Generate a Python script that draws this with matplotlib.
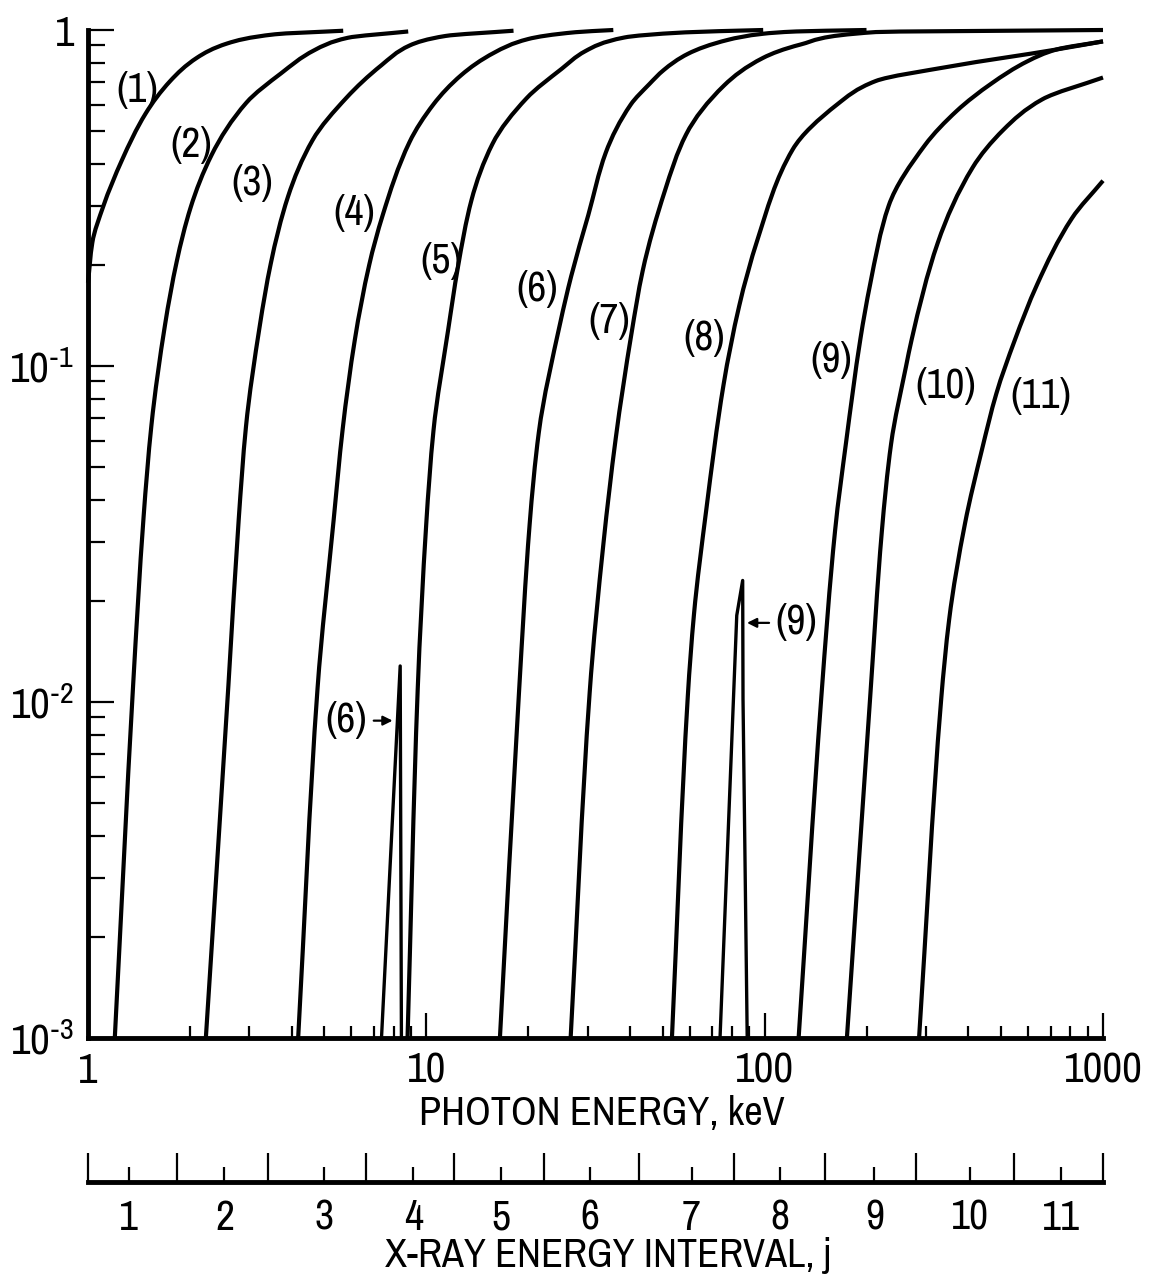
import numpy as np
import matplotlib.pyplot as plt
from matplotlib import font_manager as fm
from matplotlib.path import Path
from matplotlib.patches import PathPatch
from matplotlib.ticker import NullFormatter, LogLocator

# the original lettering is a condensed sans, so look for a narrow face
narrow = [f for f in fm.fontManager.ttflist
          if f.style == 'normal' and f.weight in (400, 'normal', 'regular', 'book')
          and (f.stretch in ('condensed', 'semi-condensed', 'extra-condensed')
               or 'Narrow' in f.name or 'Condensed' in f.name)]
narrow.sort(key=lambda f: 0 if 'Narrow' in f.name else 1)
if narrow:
    plt.rcParams['font.family'] = [narrow[0].name, 'DejaVu Sans']
    plt.rcParams['font.stretch'] = narrow[0].stretch
else:
    plt.rcParams['font.family'] = ['Roboto', 'DejaVu Sans']
plt.rcParams['mathtext.default'] = 'regular'
FS = 31

# transmission curves for each x-ray energy interval j (photon energy in keV)
c1_E = [1.0, 1.03, 1.11, 1.26, 1.48, 1.75, 2.10, 2.58, 3.57, 5.68]
c1_T = [0.177, 0.233, 0.299, 0.410, 0.564, 0.705, 0.827, 0.912, 0.971, 0.995]

c2_E = [1.20, 1.36, 1.46, 1.54, 1.69, 1.83, 2.01, 2.32, 2.94, 3.72, 4.67, 5.86, 8.84]
c2_T = [0.001, 0.0113, 0.0356, 0.0667, 0.133, 0.205, 0.296, 0.425, 0.608, 0.743, 0.871, 0.948, 0.99]

c3_E = [2.23, 2.60, 2.79, 2.93, 3.22, 3.47, 3.90, 4.61, 5.81, 7.36, 8.94, 11.4, 18.1]
c3_T = [0.001, 0.0112, 0.0351, 0.0659, 0.132, 0.202, 0.319, 0.470, 0.629, 0.785, 0.90, 0.96, 0.995]

c4_E = [4.18, 4.77, 5.32, 5.66, 6.15, 6.78, 7.43, 8.92, 10.5, 12.7, 15.9, 20.0, 27.6, 35.7]
c4_T = [0.001, 0.011, 0.0347, 0.065, 0.120, 0.200, 0.281, 0.464, 0.601, 0.735, 0.857, 0.94, 0.985, 1.0]

c5_E = [8.80, 9.43, 10.0, 10.5, 11.6, 12.4, 13.6, 15.7, 19.8, 25.1, 29.5, 38.5, 58.3, 99.0]
c5_T = [0.001, 0.0109, 0.0342, 0.0643, 0.128, 0.197, 0.312, 0.459, 0.627, 0.766, 0.865, 0.95, 0.984, 1.0]

c6_E = [16.5, 18.8, 20.2, 21.5, 24.9, 26.8, 30.1, 33.9, 40.2, 45.6, 50.3, 59.4, 78.0, 99.3, 124, 200]
c6_T = [0.001, 0.0108, 0.0338, 0.0634, 0.135, 0.185, 0.281, 0.431, 0.60, 0.69, 0.76, 0.85, 0.935, 0.975, 0.99, 1.0]

c7_E = [26.7, 30.4, 33.4, 36.3, 40.4, 43.6, 50.7, 58.6, 76.0, 98.9, 127.5, 213, 1000]
c7_T = [0.001, 0.0107, 0.0298, 0.061, 0.125, 0.192, 0.332, 0.489, 0.685, 0.826, 0.905, 0.986, 1.0]

c8_E = [53.2, 59.3, 61.8, 67.2, 75.6, 84.1, 95.4, 121, 164, 213, 356, 729, 1000]
c8_T = [0.001, 0.0105, 0.0182, 0.0373, 0.088, 0.151, 0.239, 0.441, 0.601, 0.705, 0.78, 0.875, 0.925]

c9_E = [126, 147, 161.5, 174, 192, 205, 232.6, 298, 370, 469, 601, 729, 1000]
c9_T = [0.001, 0.0103, 0.0324, 0.0592, 0.121, 0.175, 0.30, 0.455, 0.575, 0.694, 0.809, 0.875, 0.925]

c10_E = [175, 205, 222, 236.5, 261.6, 272, 325, 412, 508, 662, 1000]
c10_T = [0.001, 0.0103, 0.0322, 0.0588, 0.0995, 0.120, 0.233, 0.39, 0.505, 0.622, 0.722]

c11_E = [286, 332.5, 351, 391, 439, 484, 548, 639, 809, 1000]
c11_T = [0.001, 0.0102, 0.0176, 0.034, 0.0565, 0.0828, 0.119, 0.175, 0.275, 0.356]

# narrow peaks below the K edges
p6_E = [7.37, 8.05, 8.37, 8.44]
p6_T = [0.001, 0.0059, 0.0128, 0.001]
p9_E = [73.8, 82.7, 86.1, 86.3, 88.8]
p9_T = [0.001, 0.0181, 0.023, 0.0102, 0.001]

curves = [(c1_E, c1_T), (c2_E, c2_T), (c3_E, c3_T), (c4_E, c4_T), (c5_E, c5_T),
          (c6_E, c6_T), (c7_E, c7_T), (c8_E, c8_T), (c9_E, c9_T), (c10_E, c10_T),
          (c11_E, c11_T)]

# curve label positions
lab_text = ['(1)', '(2)', '(3)', '(4)', '(5)', '(6)', '(7)', '(8)', '(9)', '(10)', '(11)']
lab_E = [1.40, 2.02, 3.05, 6.13, 11.1, 21.3, 34.8, 66.4, 157, 342, 653]
lab_T = [0.661, 0.456, 0.351, 0.286, 0.205, 0.169, 0.136, 0.121, 0.104, 0.0869, 0.0812]

# x-ray energy interval axis: boundaries and centres (keV)
j_bounds = [1.0, 1.83, 3.41, 6.64, 12.1, 22.2, 42.4, 80.9, 151, 280, 545, 1000]
j_centers = [1.32, 2.53, 4.99, 9.15, 16.6, 30.5, 60.8, 111, 211, 404, 751]
j_labels = [str(i) for i in range(1, 12)]


def smooth_path(E, T):
    """Bezier path through the read points: monotone cubic (log E as a function of log T)."""
    x = np.log10(E)
    t = np.log10(T)
    h = np.diff(t)
    d = np.diff(x) / h
    m = np.empty_like(x)
    m[0], m[-1] = d[0], d[-1]
    for k in range(1, len(x) - 1):
        if d[k - 1] * d[k] <= 0:
            m[k] = 0.0
        else:
            w1 = 2 * h[k] + h[k - 1]
            w2 = h[k] + 2 * h[k - 1]
            m[k] = (w1 + w2) / (w1 / d[k - 1] + w2 / d[k])
    verts = [(x[0], t[0])]
    codes = [Path.MOVETO]
    for i in range(len(x) - 1):
        verts += [(x[i] + m[i] * h[i] / 3, t[i] + h[i] / 3),
                  (x[i + 1] - m[i + 1] * h[i] / 3, t[i + 1] - h[i] / 3),
                  (x[i + 1], t[i + 1])]
        codes += [Path.CURVE4] * 3
    return Path(10 ** np.array(verts), codes)


fig = plt.figure(figsize=(11.49, 12.76), dpi=100)
L, W = 88 / 1149, 1015 / 1149
ax = fig.add_axes([L, 1 - 1038 / 1276, W, 1008 / 1276])

ax.set_xscale('log')
ax.set_yscale('log')
ax.set_xlim(1, 1000)
ax.set_ylim(1e-3, 1)

for E, T in curves:
    ax.add_patch(PathPatch(smooth_path(E, T), fill=False, edgecolor='black',
                           lw=3.0, capstyle='butt', clip_on=False))
ax.plot(p6_E, p6_T, color='black', lw=2.4, clip_on=False)
ax.plot(p9_E, p9_T, color='black', lw=2.4, clip_on=False)

for s in ['top', 'right']:
    ax.spines[s].set_visible(False)
for s in ['left', 'bottom']:
    ax.spines[s].set_linewidth(3.5)

ax.set_xticks([1, 10, 100, 1000], labels=['1', '10', '100', '1000'])
ax.set_yticks([1e-3, 1e-2, 1e-1, 1],
              labels=[r'$10^{\text{-}3}$', r'$10^{\text{-}2}$', r'$10^{\text{-}1}$', '1'])
ax.xaxis.set_minor_locator(LogLocator(base=10, subs=np.arange(2, 10)))
ax.yaxis.set_minor_locator(LogLocator(base=10, subs=np.arange(2, 10)))
ax.xaxis.set_minor_formatter(NullFormatter())
ax.yaxis.set_minor_formatter(NullFormatter())
ax.tick_params(which='both', direction='in', width=1.6, labelsize=FS)
ax.tick_params(axis='x', which='major', length=18, pad=10)
ax.tick_params(axis='x', which='minor', length=9)
ax.tick_params(axis='y', which='major', length=19, pad=10)
ax.tick_params(axis='y', which='minor', length=12)

for t, e, v in zip(lab_text, lab_E, lab_T):
    ax.text(e, v, t, fontsize=FS - 1, ha='center', va='center')

# peak annotations
ax.text(5.78, 0.00885, '(6)', fontsize=FS - 1, ha='center', va='center')
ax.annotate('', xy=(8.1, 0.0088), xytext=(6.86, 0.0088),
            arrowprops=dict(arrowstyle='-|>', lw=1.6, color='black', mutation_scale=14))
ax.text(124.4, 0.0173, '(9)', fontsize=FS - 1, ha='center', va='center')
ax.annotate('', xy=(87.0, 0.0172), xytext=(105, 0.0172),
            arrowprops=dict(arrowstyle='-|>', lw=1.6, color='black', mutation_scale=14))

# second scale: x-ray energy interval j
ax2 = fig.add_axes([L, 1 - 1182 / 1276, W, 0.001])
ax2.set_xscale('log')
ax2.set_xlim(1, 1000)
ax2.patch.set_visible(False)
for s in ['top', 'right', 'left']:
    ax2.spines[s].set_visible(False)
ax2.spines['bottom'].set_linewidth(3.5)
ax2.set_yticks([])
ax2.set_xticks(j_bounds)
ax2.xaxis.set_major_formatter(NullFormatter())
ax2.set_xticks(j_centers, labels=j_labels, minor=True)
ax2.tick_params(which='both', direction='in', width=1.6, labelsize=FS - 1)
ax2.tick_params(which='major', length=21)
ax2.tick_params(which='minor', length=11, pad=12)

fig.text(602 / 1149, 1 - 1113 / 1276, 'PHOTON ENERGY, keV', fontsize=FS - 2,
         ha='center', va='center')
fig.text(608 / 1149, 1 - 1256 / 1276, 'X-RAY ENERGY INTERVAL, j', fontsize=FS - 2,
         ha='center', va='center')

fig.savefig('out.png', dpi=100, facecolor='white')
